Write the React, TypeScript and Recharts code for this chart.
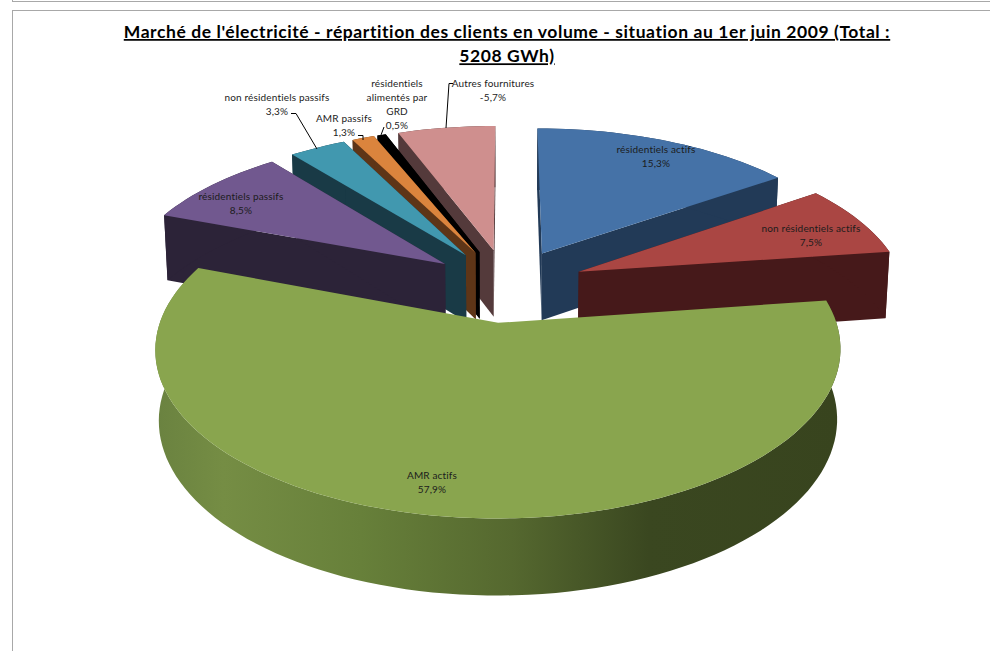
import React from 'react';
import { PieChart, Pie } from 'recharts';

const names = ['résidentiels actifs', 'non résidentiels actifs', 'AMR actifs', 'résidentiels passifs', 'non résidentiels passifs', 'AMR passifs', 'résidentiels alimentés par GRD', 'Autres fournitures'];
const values = [15.3, 7.5, 57.9, 8.5, 3.3, 1.3, 0.5, 5.7];
const percentLabels = ['15,3%', '7,5%', '57,9%', '8,5%', '3,3%', '1,3%', '0,5%', '-5,7%'];
const topColors = ['#4572A7', '#AA4643', '#89A54E', '#71588F', '#4198AF', '#DB843D', '#000000', '#CF8F8E'];
const wallColors = ['#223A57', '#46191A', 'url(#greenWall)', '#2C2338', '#193A46', '#5E3517', '#000000', '#543A3B'];
const drawOrder = [0, 1, 7, 6, 5, 4, 3, 2];
const titleLines = ["Marché de l'électricité - répartition des clients en volume - situation au 1er juin 2009 (Total :", '5208 GWh)'];

const data = names.map((name, i) => ({ name, value: values[i] }));

const EXPLODE = 78;
const TILT = 153;
const PERSP = 0.1525;
const DEPTH = 68;
const SHRINK = 0.99;

type P = [number, number];

function makeProjector(cx: number, cy: number, R: number) {
  const top = (x: number, z: number) => {
    const zr = z / R;
    const p = 1 / (1 + PERSP * zr);
    return { pt: [cx + x * p, cy - TILT * zr * p] as P, p };
  };
  const bottom = (x: number, z: number): P => {
    const { pt, p } = top(x, z);
    return [cx + (pt[0] - cx) * SHRINK, pt[1] + DEPTH * Math.pow(p, 0.6)];
  };
  return { top, bottom };
}

const toPath = (pts: P[]) => 'M' + pts.map((q) => q[0].toFixed(1) + ',' + q[1].toFixed(1)).join('L') + 'Z';

function Slice3D(props: any) {
  const { cx, cy, outerRadius: R, startAngle, endAngle, name, only } = props;
  const i = names.indexOf(name ?? props.payload?.name);
  if (i !== only) return <g />;
  const a0 = 90 - startAngle;
  const a1 = 90 - endAngle;
  const rad = (d: number) => (d * Math.PI) / 180;
  const mid = (a0 + a1) / 2;
  const ax = EXPLODE * Math.sin(rad(mid));
  const az = EXPLODE * Math.cos(rad(mid));
  const { top, bottom } = makeProjector(cx, cy, R);
  const arc: [number, number][] = [];
  const n = Math.max(2, Math.ceil((a1 - a0) / 2));
  for (let k = 0; k <= n; k++) {
    const a = rad(a0 + ((a1 - a0) * k) / n);
    arc.push([ax + R * Math.sin(a), az + R * Math.cos(a)]);
  }
  const topArc = arc.map(([x, z]) => top(x, z).pt);
  const botArc = arc.map(([x, z]) => bottom(x, z));
  const aT = top(ax, az).pt;
  const aB = bottom(ax, az);
  const wall = wallColors[i];
  return (
    <g>
      {i === 2 && (
        <defs>
          <linearGradient id="greenWall" x1="0" y1="0" x2="1" y2="0">
            <stop offset="0" stopColor="#6A8240" />
            <stop offset="0.1" stopColor="#758D44" />
            <stop offset="0.3" stopColor="#67803A" />
            <stop offset="0.52" stopColor="#55682F" />
            <stop offset="0.72" stopColor="#3A4720" />
            <stop offset="1" stopColor="#38441E" />
          </linearGradient>
        </defs>
      )}
      {i !== 2 && <path d={toPath([aT, topArc[0], botArc[0], aB])} fill={wall} />}
      {i !== 2 && <path d={toPath([aT, topArc[n], botArc[n], aB])} fill={wall} />}
      <path d={toPath([...topArc, ...botArc.slice().reverse()])} fill={wall} />
      <path d={toPath([aT, ...topArc])} fill={topColors[i]} />
    </g>
  );
}

const labelTextLines: string[][] = [
  ['résidentiels actifs'],
  ['non résidentiels actifs'],
  ['AMR actifs'],
  ['résidentiels passifs'],
  ['non résidentiels passifs'],
  ['AMR passifs'],
  ['résidentiels', 'alimentés par', 'GRD'],
  ['Autres fournitures'],
];
const labelAnchor: P[] = [[656, 149], [811, 228], [432, 475], [241, 196], [277, 97], [344, 118], [397, 83], [493, 83]];
const leaders: (P[] | null)[] = [
  null,
  null,
  null,
  null,
  [[291, 113.5], [296, 113.5], [317, 149]],
  [[358, 135.5], [363, 135.5], [363, 140]],
  [[384, 127], [381, 135]],
  [[453, 83.5], [449, 83.5], [446, 128]],
];

function SliceLabel(props: any) {
  const i = names.indexOf(props.name ?? props.payload?.name);
  const [x, y] = labelAnchor[i];
  const lines = [...labelTextLines[i], percentLabels[i]];
  const leader = leaders[i];
  return (
    <g>
      {leader && (
        <polyline points={leader.map((q) => q.join(',')).join(' ')} fill="none" stroke="#000" strokeWidth={1} />
      )}
      {lines.map((t, k) => (
        <text key={k} x={x} y={y + k * 14 + 3.5} textAnchor="middle" fontFamily="Lato, Carlito, sans-serif" fontSize={10} letterSpacing={0.16} style={{ fontVariantLigatures: 'none' }} fill="#1c1c1c">
          {t}
        </text>
      ))}
    </g>
  );
}

const frameColor = '#A8A8A8';

export default function App() {
  return (
    <div style={{ position: 'absolute', left: 0, top: 0, width: 990, height: 651, background: '#fff' }}>
      <PieChart width={990} height={651} margin={{ top: 0, right: 0, bottom: 0, left: 0 }}>
        <line x1={12.5} y1={0} x2={12.5} y2={1.5} stroke={frameColor} />
        <line x1={12} y1={1.5} x2={990} y2={1.5} stroke={frameColor} />
        <line x1={12.5} y1={10.5} x2={990} y2={10.5} stroke={frameColor} />
        <line x1={12.5} y1={10} x2={12.5} y2={651} stroke={frameColor} />
        {titleLines.map((t, k) => (
          <text key={k} x={507} y={38 + k * 24.3} textAnchor="middle" fontFamily="Lato, Carlito, sans-serif" fontWeight={700} fontSize={17.5} letterSpacing={0.58} textDecoration="underline" style={{ fontVariantLigatures: 'none' }} fill="#000">
            {t}
          </text>
        ))}
        {drawOrder.map((idx, layer) => (
          <Pie
            key={idx}
            data={data}
            dataKey="value"
            nameKey="name"
            cx={507}
            cy={285}
            innerRadius={0}
            outerRadius={326}
            startAngle={90}
            endAngle={-270}
            stroke="none"
            isAnimationActive={false}
            shape={(p: any) => <Slice3D {...p} only={idx} />}
            label={layer === drawOrder.length - 1 ? (p: any) => <SliceLabel {...p} /> : false}
            labelLine={false}
          />
        ))}
      </PieChart>
    </div>
  );
}
